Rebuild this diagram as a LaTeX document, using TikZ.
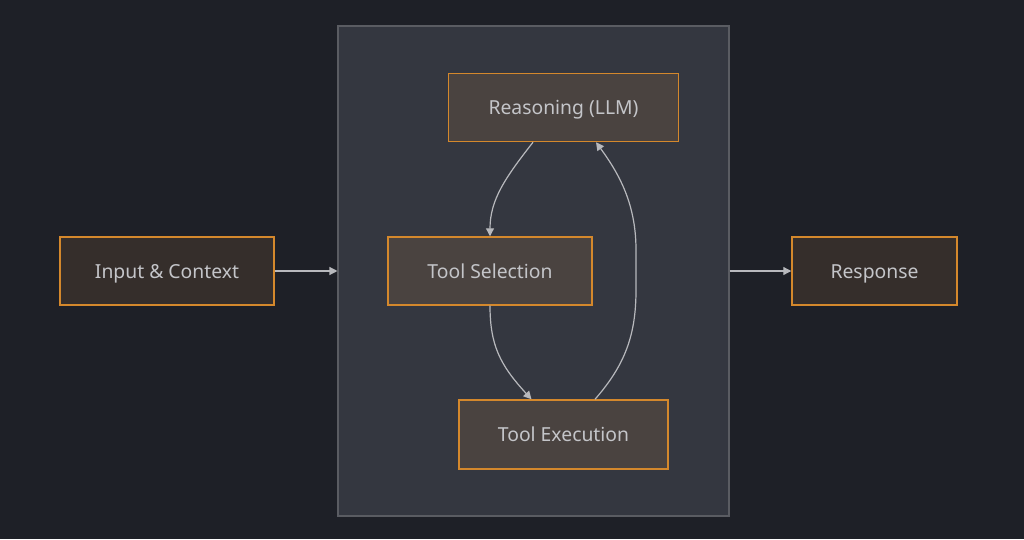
\documentclass[tikz,border=0pt]{standalone}
\usepackage{fontspec}
\setmainfont{Noto Sans}
\usetikzlibrary{arrows.meta,calc}
\definecolor{bgc}{HTML}{1E2027}
\definecolor{panel}{HTML}{343740}
\definecolor{panelline}{HTML}{5A5C62}
\definecolor{boxin}{HTML}{4A4340}
\definecolor{boxout}{HTML}{352E2B}
\definecolor{orangeline}{HTML}{D4882C}
\definecolor{txt}{HTML}{C4C5C9}
\definecolor{arr}{HTML}{B8B9BD}
\begin{document}
\begin{tikzpicture}[x=0.75pt,y=-0.75pt,
  stepbox/.style={draw=orangeline,line width=1.1pt,inner sep=0pt,text=txt,font=\fontsize{14.5}{17}\selectfont,text height=10.6pt,text depth=0pt},
  inbox/.style={stepbox,fill=boxin},
  outbox/.style={stepbox,fill=boxout},
  conn/.style={draw=arr,line width=0.9pt,-{Triangle[length=6pt,width=6pt]}}]
\fill[bgc] (0,0) rectangle (1024,539);
\useasboundingbox (0,0) rectangle (1024,539);
\node[draw=panelline,fill=panel,line width=0.8pt,minimum width=293.25pt,minimum height=367.5pt,inner sep=0pt] (panel) at (533.5,271) {};
\node[inbox,minimum width=172.5pt,minimum height=51pt] (reason) at (563.5,107.5) {Reasoning (LLM)};
\node[inbox,minimum width=153pt,minimum height=51pt] (select) at (490,271) {Tool Selection};
\node[inbox,minimum width=156.75pt,minimum height=51.75pt] (exec) at (563.5,434.5) {Tool Execution};
\node[outbox,minimum width=160.5pt,minimum height=51pt] (input) at (167,271) {Input \& Context};
\node[outbox,minimum width=123.75pt,minimum height=51pt] (resp) at (874.5,271) {Response};
\draw[conn] (input.east) -- (panel.west);
\draw[conn] (panel.east) -- (resp.west);
\draw[conn] ($(reason.south)+(-30.5,0)$) .. controls (505,178) and (490,200) .. (select.north);
\draw[conn] (select.south) .. controls (490,345) and (500,365) .. ($(exec.north)+(-32,0)$);
\draw[conn] ($(exec.north)+(31.5,0)$) .. controls (625,365) and (636,335) .. (636,290) -- (636,250) .. controls (636,205) and (620,175) .. ($(reason.south)+(32.5,0)$);
\end{tikzpicture}
\end{document}
